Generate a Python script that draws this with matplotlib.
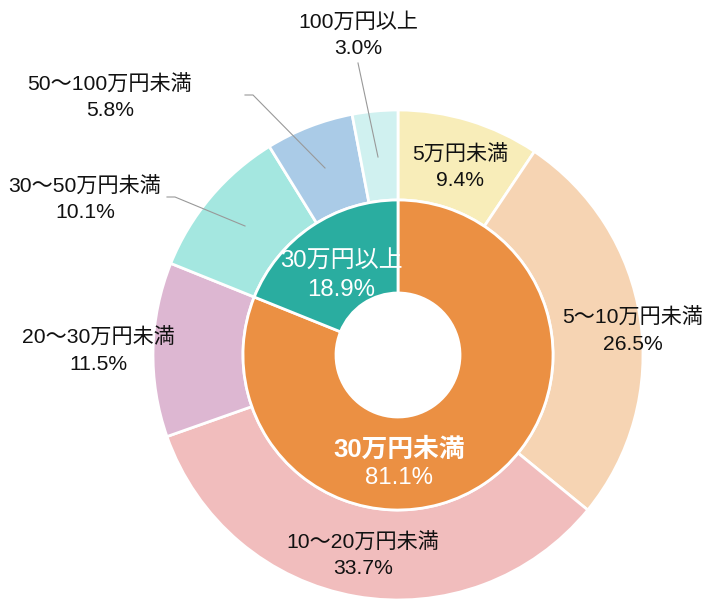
import matplotlib.pyplot as plt

plt.rcParams['font.family'] = ['Liberation Sans', 'Noto Sans CJK JP']

# outer ring: detailed categories (clockwise from 12 o'clock)
outer_labels = ['5万円未満', '5～10万円未満', '10～20万円未満', '20～30万円未満',
                '30～50万円未満', '50～100万円未満', '100万円以上']
outer_values = [9.4, 26.5, 33.7, 11.5, 10.1, 5.8, 3.0]
outer_colors = ['#F8EDB9', '#F6D4B3', '#F1BDBD', '#DDB7D2', '#A4E7E0', '#AACBE7', '#D0F1F0']

# inner ring: summary
inner_labels = ['30万円未満', '30万円以上']
inner_values = [81.1, 18.9]
inner_colors = ['#EB9043', '#2AADA0']

W, H = 714, 603
fig = plt.figure(figsize=(W / 100, H / 100), dpi=100)
ax = fig.add_axes([0, 0, 1, 1])
ax.set_xlim(0, W)
ax.set_ylim(0, H)
ax.set_aspect('equal')
ax.axis('off')

cx, cy = 398, H - 355
r_out, r_mid, r_hole = 245, 155, 62

wp = dict(edgecolor='white', linewidth=2)
ax.pie(outer_values, colors=outer_colors, startangle=90, counterclock=False,
       radius=r_out, center=(cx, cy), wedgeprops=dict(width=r_out - r_mid, **wp))
ax.pie(inner_values, colors=inner_colors, startangle=90, counterclock=False,
       radius=r_mid, center=(cx, cy), wedgeprops=dict(width=r_mid - r_hole, **wp))
ax.set_xlim(0, W)
ax.set_ylim(0, H)


def y(py):
    return H - py


# label placement (pixel coords, top-down) for outer labels
outer_pos = [(460, 155), (633, 318), (363, 543), (98, 338), (85, 187), (110, 85), (358, 22)]
for name, val, (px, py) in zip(outer_labels, outer_values, outer_pos):
    ax.text(px, y(py), name, ha='center', va='center', fontsize=15.2, color='#111111')
    ax.text(px, y(py + 26), '%.1f%%' % val, ha='center', va='center', fontsize=15.2, color='#111111')

# inner labels
inner_pos = [(399, 450), (341, 262)]
inner_bold = ['bold', 'normal']
inner_size = [18.5, 17.3]
for name, val, (px, py), fw, fs in zip(inner_labels, inner_values, inner_pos, inner_bold, inner_size):
    ax.text(px, y(py), name, ha='center', va='center', fontsize=fs, color='white', fontweight=fw)
    ax.text(px, y(py + 28), '%.1f%%' % val, ha='center', va='center', fontsize=17.3, color='white')

# leader lines
lc = '#999999'
ax.plot([358, 378], [y(63), y(157)], color=lc, lw=0.8)
ax.plot([245, 253, 325], [y(95), y(95), y(168)], color=lc, lw=0.8)
ax.plot([167, 175, 245], [y(197), y(197), y(226)], color=lc, lw=0.8)

fig.savefig('out.png', dpi=100)
